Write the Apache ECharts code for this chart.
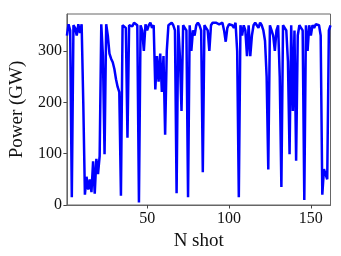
<!DOCTYPE html>
<html>
<head>
<meta charset="utf-8">
<script src="https://cdn.jsdelivr.net/npm/echarts@6/dist/echarts.min.js"></script>
<style>html,body{margin:0;padding:0;background:#fff;}#c{width:341px;height:256px;}</style>
</head>
<body>
<div id="c"></div>
<script>
const power = [
330,352,340,15,350,345,330,352,335,352,
200,20,55,30,50,25,85,22,90,60,
95,352,290,99,352,330,295,285,278,265,
245,230,220,18,350,352,345,131,350,352,
348,355,352,350,5,350,340,300,352,340,
350,355,345,350,225,290,240,295,220,290,
137,300,350,352,355,350,340,23,350,290,
183,350,345,340,15,350,300,340,330,350,
355,350,340,64,350,345,340,300,350,355,
352,355,355,352,350,355,340,318,345,352,
355,350,345,355,300,15,350,330,350,340,
290,350,290,330,350,355,350,345,355,350,
340,320,250,69,350,340,330,300,340,350,
250,35,350,350,340,280,99,350,183,340,
86,330,350,345,340,10,350,300,350,330,
350,345,352,352,350,330,20,70,68,50,
340,350
];
const xTicks = [50, 100, 150];
const yTicks = [0, 100, 200, 300];
const xName = 'N shot';
const yName = 'Power (GW)';

const pts = power.map((v, i) => [i + 1, v]);
const font = 'Liberation Serif';
const chart = echarts.init(document.getElementById('c'));
chart.setOption({
  animation: false,
  grid: {left: 61, right: 10.5, top: 14, bottom: 51, show: true, borderColor: '#666', borderWidth: 1},
  xAxis: {
    type: 'value', min: 1, max: 162,
    name: xName, nameLocation: 'middle', nameGap: 27,
    nameTextStyle: {fontFamily: font, fontSize: 19, color: '#111'},
    axisLine: {show: true, lineStyle: {color: '#666'}},
    axisTick: {show: true, length: 3.5, lineStyle: {color: '#444'}, customValues: xTicks},
    axisLabel: {fontFamily: font, fontSize: 16, color: '#111', margin: 6, customValues: xTicks},
    splitLine: {show: false}
  },
  yAxis: {
    type: 'value', min: 0, max: 372,
    name: yName, nameLocation: 'middle', nameGap: 38,
    nameTextStyle: {fontFamily: font, fontSize: 19, color: '#111'},
    axisLine: {show: true, lineStyle: {color: '#666'}},
    axisTick: {show: true, length: 3.5, lineStyle: {color: '#444'}, customValues: yTicks},
    axisLabel: {fontFamily: font, fontSize: 16, color: '#111', margin: 5, customValues: yTicks},
    splitLine: {show: false}
  },
  series: [{
    type: 'line', data: pts, showSymbol: false,
    lineStyle: {color: '#0000ff', width: 2.5}, clip: true
  }]
});
</script>
</body>
</html>
